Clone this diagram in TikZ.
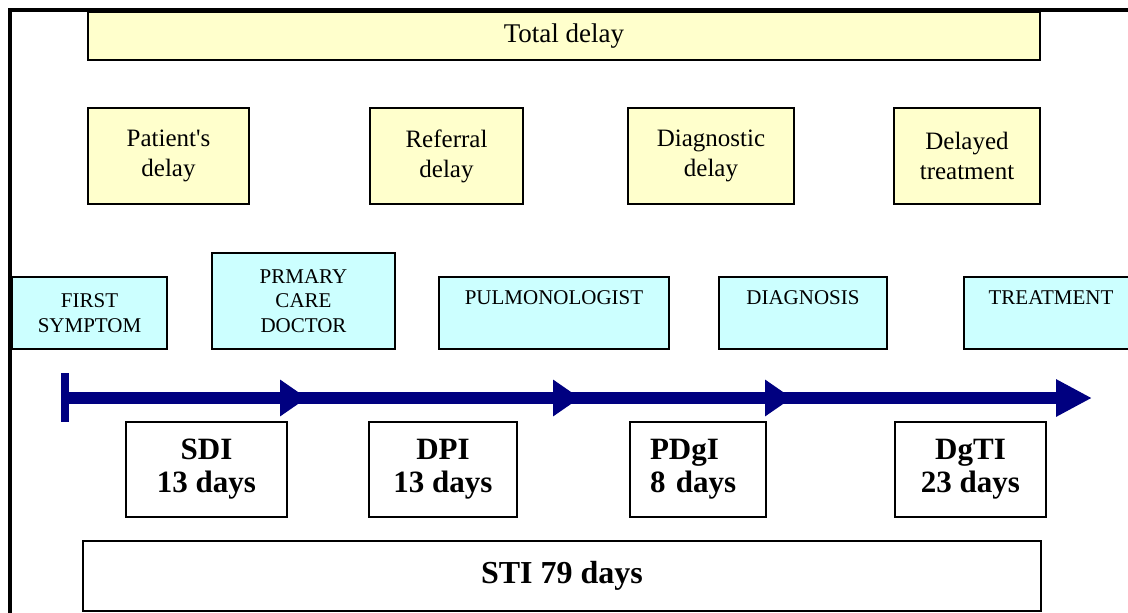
\documentclass[tikz,border=0pt]{standalone}
\usepackage{fontspec}
\setmainfont{Liberation Serif}
\usetikzlibrary{arrows.meta}
\definecolor{ylw}{HTML}{FFFFCC}
\definecolor{cyn}{HTML}{CCFFFF}
\definecolor{nvy}{HTML}{000080}
\begin{document}
\begin{tikzpicture}[x=1pt,y=-1pt,
  box/.style={draw=black, line width=1.6pt, inner sep=0pt, align=center},
  ybox/.style={box, fill=ylw, font=\fontsize{25}{30}\selectfont},
  cbox/.style={box, fill=cyn, font=\fontsize{21}{24.5}\selectfont},
  wbox/.style={box, fill=white, font=\bfseries\fontsize{31}{33}\selectfont},
  tl/.style={draw=nvy, line width=12pt, -{Triangle[length=27pt,width=35pt]}},
  tlend/.style={draw=nvy, line width=12pt, -{Triangle[length=36pt,width=35pt]}},
  frame/.style={draw=black, line width=3.5pt}]
\useasboundingbox (0,0) rectangle (1128,613);

% total delay
\node[box, line width=1.2pt, fill=ylw, font=\fontsize{27}{30}\selectfont,
  minimum width=952pt, minimum height=48pt] (tot) at (564,36) {Total delay};

% delay categories
\node[ybox, minimum width=161pt, minimum height=96pt] (pat) at (168.5,156) {Patient\textquotesingle s\\delay};
\node[ybox, minimum width=153pt, minimum height=96pt] (ref) at (446.5,156) {Referral\\delay};
\node[ybox, minimum width=166pt, minimum height=96pt] (dia) at (711,156) {Diagnostic\\delay};
\node[ybox, minimum width=146pt, minimum height=96pt] (dtr) at (967,156) {Delayed\\treatment};

% stations
\node[cbox, minimum width=155pt, minimum height=72pt] (fs) at (89.5,313) {FIRST\\SYMPTOM};
\node[cbox, minimum width=183pt, minimum height=96pt] (pcd) at (303.5,301) {PRMARY\\CARE\\DOCTOR};
\node[cbox, minimum width=230pt, minimum height=72pt] (pul) at (554,313) {PULMONOLOGIST\\\strut};
\node[cbox, minimum width=168pt, minimum height=72pt] (dgn) at (803,313) {DIAGNOSIS\\\strut};
\node[cbox, minimum width=174pt, minimum height=72pt] (trt) at (1051,313) {TREATMENT\\\strut};

% timeline
\coordinate (b1) at (65,373);
\coordinate (b2) at (65,422);
\coordinate (t0) at (65,398);
\coordinate (t1) at (307,398);
\coordinate (s1) at (295,398);
\coordinate (t2) at (580,398);
\coordinate (s2) at (570,398);
\coordinate (t3) at (792,398);
\coordinate (s3) at (782,398);
\coordinate (t4) at (1092,398);
\draw[draw=nvy, line width=8pt] (b1) -- (b2);
\draw[tl] (t0) -- (t1);
\draw[tl] (s1) -- (t2);
\draw[tl] (s2) -- (t3);
\draw[tlend] (s3) -- (t4);

% intervals
\node[wbox, minimum width=161pt, minimum height=95pt] (sdi) at (206.5,469.5) {SDI\\13 days};
\node[wbox, minimum width=148pt, minimum height=95pt] (dpi) at (443,469.5) {DPI\\13 days};
\node[wbox, align=left, text width=96pt, inner xsep=20pt, minimum height=95pt] (pdg) at (698,469.5) {PDgI\\8 days};
\node[wbox, minimum width=151pt, minimum height=95pt] (dgt) at (970.5,469.5) {DgTI\\23 days};
\node[wbox, font=\bfseries\fontsize{32}{33}\selectfont, minimum width=958pt, minimum height=70pt] (sti) at (562,576) {STI 79 days};

% frame
\coordinate (f1) at (10,620);
\coordinate (f2) at (10,10);
\coordinate (f3) at (1135,10);
\draw[frame] (f1) -- (f2) -- (f3);
\end{tikzpicture}
\end{document}
